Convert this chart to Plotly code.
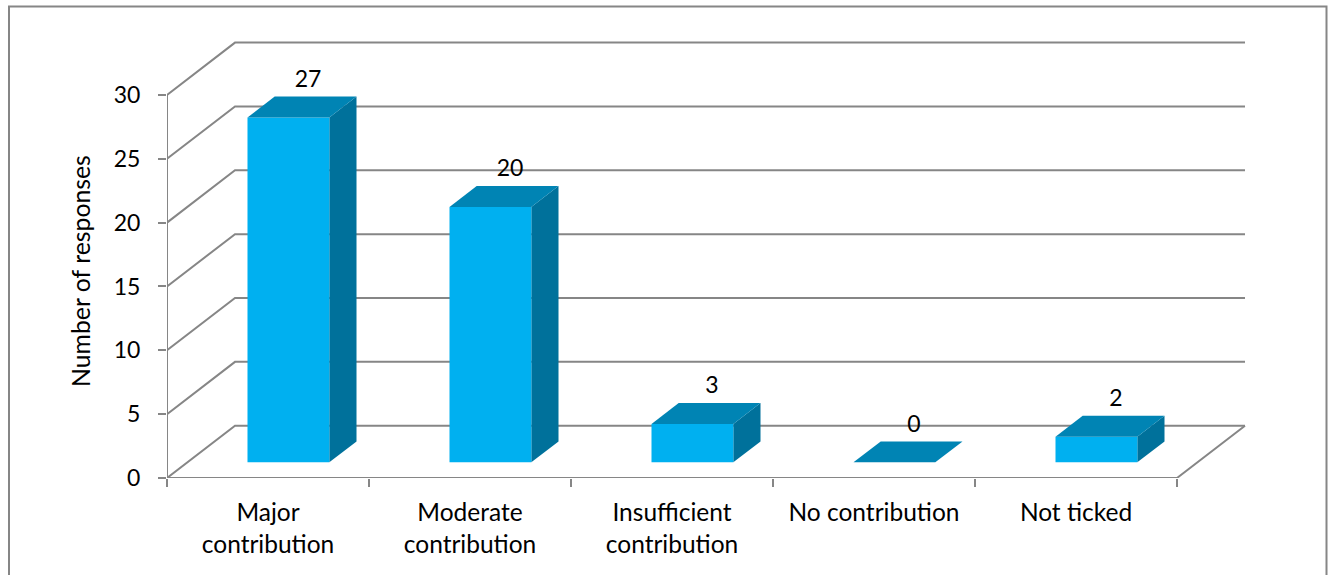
import plotly.graph_objects as go

################################################################################
# Data

categories = ["Major<br>contribution", "Moderate<br>contribution", "Insufficient<br>contribution",
              "No contribution", "Not ticked"]
responses = [27, 20, 3, 0, 2]
y_ticks = [0, 5, 10, 15, 20, 25, 30]

################################################################################
# Page and oblique projection settings (Excel style fake 3D)

W, H = 1332, 575
X0_PX, X_UNIT_PX = 167, 202      # pixel of x=0, pixels per category
Y0_PX, Y_UNIT_PX = 478, 12.77    # pixel of y=0, pixels per response
RIGHT_PX, TOP_PX = 1248, 40

DEPTH_X = 68 / X_UNIT_PX         # full depth of the floor in axis units
DEPTH_Y = 52.3 / Y_UNIT_PX
BAR_W = 0.405
BAR_Z0, BAR_Z1 = 0.30, 0.70      # bar front and back, as share of the depth

GRID = "#868686"
FRONT = "#00B0F0"
TOP = "#0084B4"
SIDE = "#00719B"
FONT = "Lato"
SIZE = 23


def proj(x, y, z):
    return x + z * DEPTH_X, y + z * DEPTH_Y


def face(corners):
    pts = [proj(*c) for c in corners] + [proj(*corners[0])]
    return go.Scatter(x=[p[0] for p in pts], y=[p[1] for p in pts], mode="lines", fill="toself",
                      line=dict(width=0), hoverinfo="skip", showlegend=False, cliponaxis=False)


fig = go.Figure()

################################################################################
# Walls and floor lines

n = len(categories)
lx, ly = [], []
for t in y_ticks:
    a = proj(0, t, 0)
    b = proj(0, t, 1)
    c = proj(n, t, 1)
    lx += [a[0], b[0], c[0], None]
    ly += [a[1], b[1], c[1], None]
# front axes and right floor edge
lx += [0, 0, None, 0, n, proj(n, 0, 1)[0]]
ly += [y_ticks[-1], 0, None, 0, 0, proj(n, 0, 1)[1]]
fig.add_trace(go.Scatter(x=lx, y=ly, mode="lines", line=dict(color=GRID, width=2),
                         hoverinfo="skip", showlegend=False, cliponaxis=False))

################################################################################
# Bars

for i, v in enumerate(responses):
    x0 = i + 0.5 - BAR_W / 2
    x1 = i + 0.5 + BAR_W / 2
    side = face([(x1, 0, BAR_Z0), (x1, 0, BAR_Z1), (x1, v, BAR_Z1), (x1, v, BAR_Z0)])
    side.fillcolor = SIDE
    top = face([(x0, v, BAR_Z0), (x1, v, BAR_Z0), (x1, v, BAR_Z1), (x0, v, BAR_Z1)])
    top.fillcolor = TOP
    front = face([(x0, 0, BAR_Z0), (x1, 0, BAR_Z0), (x1, v, BAR_Z0), (x0, v, BAR_Z0)])
    front.fillcolor = FRONT
    fig.add_traces([side, front, top])

# value labels sit above the middle of the bar top
label_pos = [proj(i + 0.5 + 6 / X_UNIT_PX, v + 26 / Y_UNIT_PX, (BAR_Z0 + BAR_Z1) / 2)
             for i, v in enumerate(responses)]
fig.add_trace(go.Scatter(x=[p[0] for p in label_pos], y=[p[1] for p in label_pos],
                         mode="text", text=[str(v) for v in responses], textposition="middle center",
                         textfont=dict(family=FONT, size=SIZE, color="black"),
                         hoverinfo="skip", showlegend=False, cliponaxis=False))

################################################################################
# Layout

fig.update_xaxes(domain=[X0_PX / W, RIGHT_PX / W], range=[0, (RIGHT_PX - X0_PX) / X_UNIT_PX],
                 tickmode="array", tickvals=[i + 0.5 for i in range(n)], ticktext=categories,
                 ticks="outside", ticklen=13, tickcolor="rgba(0,0,0,0)",
                 minor=dict(tickmode="array", tickvals=list(range(n + 1)), ticks="outside",
                            ticklen=8, tickcolor=GRID, tickwidth=1.5),
                 showgrid=False, zeroline=False, showline=False,
                 tickfont=dict(family=FONT, size=24.5, color="black"))
fig.update_yaxes(domain=[(H - Y0_PX) / H, (H - TOP_PX) / H], range=[0, (Y0_PX - TOP_PX) / Y_UNIT_PX],
                 tickmode="array", tickvals=y_ticks, ticks="outside", ticklen=21,
                 tickcolor="rgba(0,0,0,0)",
                 minor=dict(tickmode="array", tickvals=y_ticks, ticks="outside",
                            ticklen=8, tickcolor=GRID, tickwidth=1.5),
                 showgrid=False, zeroline=False, showline=False,
                 tickfont=dict(family=FONT, size=SIZE, color="black"))

fig.update_layout(width=W, height=H, margin=dict(l=0, r=0, t=0, b=0, autoexpand=False),
                  paper_bgcolor="white", plot_bgcolor="white", showlegend=False)

fig.add_annotation(text="Number of responses", xref="paper", yref="paper", x=80 / W, y=(H - 271) / H,
                   textangle=-90, showarrow=False, xanchor="center", yanchor="middle",
                   font=dict(family=FONT, size=24.8, color="black"))

# chart frame, open at the bottom of the page
fig.add_shape(type="path", xref="paper", yref="paper", line=dict(color=GRID, width=2),
              path=f"M {9 / W} 0 L {9 / W} {(H - 6.5) / H} L {1326.5 / W} {(H - 6.5) / H} L {1326.5 / W} 0")

fig.write_html("out.html", post_script="document.body.style.margin='0';",
               config=dict(displayModeBar=False))
